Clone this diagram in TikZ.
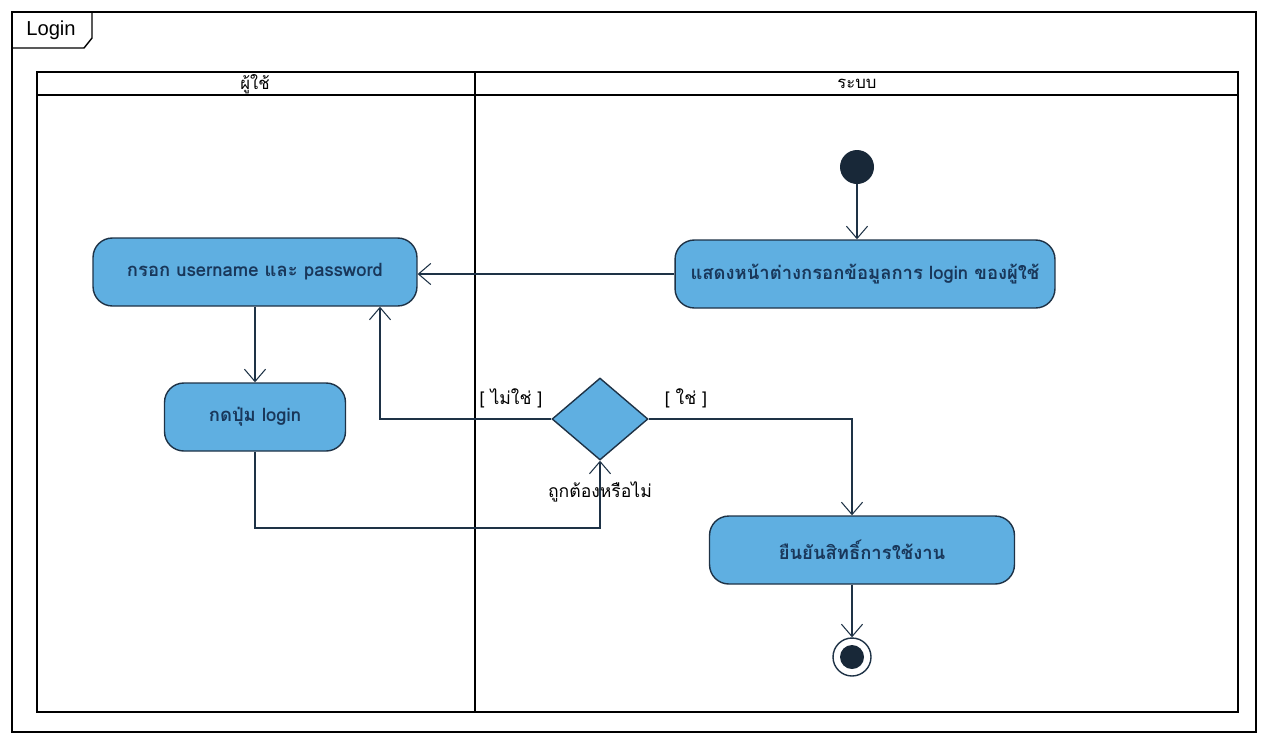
\documentclass[tikz,border=0pt]{standalone}
\usepackage{fontspec}
\usetikzlibrary{shapes.geometric,arrows.meta}
\setmainfont{Liberation Sans}
\newfontfamily\thaifont[Script=Thai]{Loma}
\definecolor{ActBlue}{RGB}{95,175,225}
\definecolor{ActLine}{RGB}{30,50,70}
\definecolor{ActText}{RGB}{25,55,90}
\tikzset{
  action/.style={draw=ActLine, thick, fill=ActBlue, rounded corners=11pt,
    minimum height=1.36cm, text=ActText,
    font=\thaifont\bfseries\fontsize{10.5}{12}\selectfont},
  guard/.style={font=\thaifont\fontsize{10}{12}\selectfont},
  lanetitle/.style={font=\thaifont\fontsize{9.5}{11}\selectfont},
  lane/.style={line width=1.6pt},
  flow/.style={draw=ActLine, semithick, -{Straight Barb[length=7pt,width=12pt]}},
}

\begin{document}
\begin{tikzpicture}[x=0.02cm, y=-0.02cm]
          \useasboundingbox (0,0) rectangle (1263,738);
          % frame
          \draw[thick] (12,12) rectangle (1256,732);
          \draw[thick] (12,48) -- (84,48) -- (92,38) -- (92,12);
          \node[font=\fontsize{11.5}{13}\selectfont] (frame) at (51,30) {Login};
          % swimlanes
          \draw[lane] (37,72) rectangle (1238,712);
          \draw[lane] (37,95) -- (1238,95);
          \draw[lane] (475,72) -- (475,712);
          \node[lanetitle] (user) at (255,84) {ผู้ใช้};
          \node[lanetitle] (system) at (857,84) {ระบบ};
          % nodes
          \node[circle, fill=ActLine!80!black, minimum size=0.68cm, inner sep=0] (start) at (857,167) {};
          \node[action, minimum width=7.6cm] (show) at (865,274) {แสดงหน้าต่างกรอกข้อมูลการ login ของผู้ใช้};
          \node[action, minimum width=6.48cm] (fill) at (255,272) {กรอก username และ password};
          \node[action, minimum width=3.62cm] (press) at (255,417) {กดปุ่ม login};
          \node[diamond, draw=ActLine, thick, fill=ActBlue, minimum width=1.92cm, minimum height=1.64cm, inner sep=0] (check) at (600,419) {};
          \node[action, minimum width=6.1cm] (confirm) at (862,550) {ยืนยันสิทธิ์การใช้งาน};
          \node[circle, draw=ActLine, thick, minimum size=0.76cm, inner sep=0] (stop) at (852,657) {};
          \fill[ActLine!80!black] (stop) circle (0.24cm);
          % labels
          \node[guard] (no) at (511,398) {[ ไม่ใช่ ]};
          \node[guard] (yes) at (686,398) {[ ใช่ ]};
          \node[guard] (ask) at (600,492) {ถูกต้องหรือไม่};
          % flows
          \coordinate (loop) at (600,528);
          \coordinate (back) at (380,0);
          \coordinate (down) at (852,0);
          \draw[flow] (start.south) -- (start.south |- show.north);
          \draw[flow] (show.west) -- (fill.east |- show.west);
          \draw[flow] (fill.south) -- (press.north);
          \draw[flow] (press.south) |- (loop) -- (check.south);
          \draw[flow] (check.west) -| (back |- fill.south);
          \draw[flow] (check.east) -| (down |- confirm.north);
          \draw[flow] (down |- confirm.south) -- (stop.north);
        \end{tikzpicture}
\end{document}
